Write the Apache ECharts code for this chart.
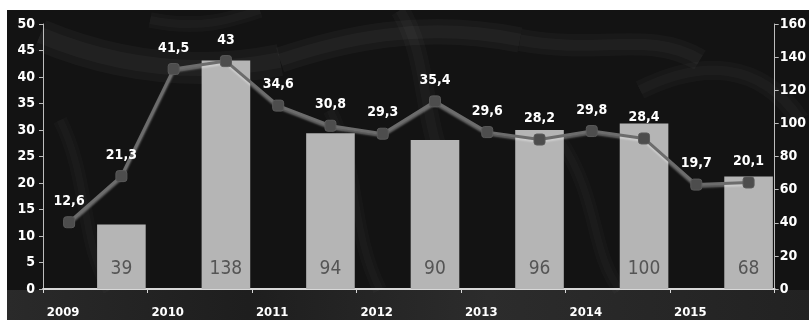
<!DOCTYPE html>
<html>
<head>
<meta charset="utf-8">
<script src="https://cdn.jsdelivr.net/npm/echarts@6/dist/echarts.min.js"></script>
<style>
  html, body { margin: 0; padding: 0; background: #ffffff; }
  #chart { width: 809px; height: 320px; }
</style>
</head>
<body>
<div id="chart"></div>
<script>
// Half-year periods 2009–2015; the year is printed on the first half only
const years = ['2009', '2010', '2011', '2012', '2013', '2014', '2015'];
const periods = years.flatMap(y => [y + ' I', y + ' II']);

// Line series (left axis), one value per half-year
const lineValues = [12.6, 21.3, 41.5, 43, 34.6, 30.8, 29.3, 35.4, 29.6, 28.2, 29.8, 28.4, 19.7, 20.1];

// Bar series (right axis), one value per year, drawn on the second half
const barValues = [39, 138, 94, 90, 96, 100, 68];

// Axis ticks
const leftTicks = { min: 0, max: 50, interval: 5 };
const rightTicks = { min: 0, max: 160, interval: 20 };

const barData = periods.map((p, i) => (i % 2 === 1 ? barValues[(i - 1) / 2] : null));

const narrow = '"Liberation Sans Narrow", "DejaVu Sans Condensed", sans-serif';

const chart = echarts.init(document.getElementById('chart'), null, { renderer: 'canvas' });

// soft branch-like strokes on the dark backdrop (a wide faint pass plus a narrower core)
const branch = (pts, w, a) => {
  const shape = { x1: pts[0], y1: pts[1], cpx1: pts[2], cpy1: pts[3], cpx2: pts[4], cpy2: pts[5], x2: pts[6], y2: pts[7] };
  return [
    { type: 'bezierCurve', silent: true, z: -9, shape,
      style: { stroke: 'rgba(255,255,255,' + a * 0.6 + ')', lineWidth: w * 1.6, fill: null, lineCap: 'butt' } },
    { type: 'bezierCurve', silent: true, z: -9, shape,
      style: { stroke: 'rgba(255,255,255,' + a * 0.6 + ')', lineWidth: w * 0.8, fill: null, lineCap: 'butt' } }
  ];
};

chart.setOption({
  backgroundColor: '#ffffff',
  animation: false,
  graphic: [
    { type: 'rect', silent: true, z: -10, shape: { x: 7, y: 10, width: 802, height: 310 }, style: { fill: '#131313' } },
    { type: 'rect', silent: true, z: -10, shape: { x: 7, y: 290, width: 802, height: 30 },
      style: { fill: new echarts.graphic.LinearGradient(0, 0, 1, 0, [
        { offset: 0, color: '#2a2a2a' }, { offset: 0.3, color: '#1e1e1e' },
        { offset: 0.6, color: '#2c2c2c' }, { offset: 1, color: '#222' }]) } },
    ...branch([40, 35, 100, 60, 180, 80, 280, 60], 20, 0.05),
    ...branch([280, 60, 340, 40, 420, 20, 520, 40], 16, 0.05),
    ...branch([400, 10, 430, 60, 420, 120, 450, 180], 12, 0.04),
    ...branch([520, 40, 600, 55, 650, 30, 700, 60], 14, 0.045),
    ...branch([640, 90, 700, 60, 760, 60, 800, 120], 12, 0.04),
    ...branch([60, 120, 90, 180, 80, 240, 110, 290], 9, 0.035),
    ...branch([330, 110, 360, 170, 350, 230, 380, 290], 9, 0.03),
    ...branch([560, 140, 600, 200, 590, 250, 620, 290], 9, 0.03),
    ...branch([150, 20, 200, 30, 230, 20, 260, 10], 10, 0.04)
  ],
  grid: { left: 43, right: 27, top: 24, bottom: 31, containLabel: false },
  xAxis: {
    type: 'category',
    data: periods,
    boundaryGap: true,
    axisLine: { lineStyle: { color: '#d8d8d8', width: 2 } },
    axisTick: { show: true, length: 4, lineStyle: { color: '#d8d8d8', width: 1 } },
    axisLabel: {
      interval: 1,
      margin: 17,
      padding: [0, 12, 0, 0],
      color: '#ffffff',
      fontFamily: narrow,
      fontWeight: 'bold',
      fontSize: 13,
      formatter: v => v.split(' ')[0]
    },
    splitLine: { show: false }
  },
  yAxis: [
    {
      type: 'value',
      position: 'left',
      min: leftTicks.min, max: leftTicks.max, interval: leftTicks.interval,
      axisLine: { show: true, lineStyle: { color: '#bdbdbd', width: 1 } },
      axisTick: { show: true, length: 4, lineStyle: { color: '#bdbdbd' } },
      axisLabel: { color: '#ffffff', fontFamily: narrow, fontWeight: 'bold', fontSize: 14, margin: 8 },
      splitLine: { show: false }
    },
    {
      type: 'value',
      position: 'right',
      min: rightTicks.min, max: rightTicks.max, interval: rightTicks.interval,
      axisLine: { show: true, lineStyle: { color: '#bdbdbd', width: 1 } },
      axisTick: { show: true, length: 4, lineStyle: { color: '#bdbdbd' } },
      axisLabel: { color: '#ffffff', fontFamily: narrow, fontWeight: 'bold', fontSize: 14, margin: 5 },
      splitLine: { show: false }
    }
  ],
  series: [
    {
      type: 'bar',
      yAxisIndex: 1,
      data: barData,
      barWidth: '93%',
      itemStyle: { color: '#b5b5b5' },
      label: {
        show: true,
        position: 'insideBottom',
        distance: 10,
        color: '#555555',
        fontFamily: narrow,
        fontSize: 19,
        formatter: p => (p.value == null ? '' : String(p.value))
      },
      z: 2
    },
    {
      type: 'line',
      yAxisIndex: 0,
      data: lineValues,
      symbol: 'roundRect',
      symbolSize: 11,
      showAllSymbol: true,
      lineStyle: { color: '#6c6c6c', width: 3, shadowColor: 'rgba(255,255,255,0.35)', shadowBlur: 2, shadowOffsetY: 2 },
      itemStyle: { color: '#4d4d4d', borderColor: '#5a5a5a', borderWidth: 1 },
      label: {
        show: true,
        position: 'top',
        distance: 8,
        color: '#ffffff',
        fontFamily: narrow,
        fontWeight: 'bold',
        fontSize: 14,
        formatter: p => String(p.value).replace('.', ',')
      },
      z: 3
    }
  ]
});
</script>
</body>
</html>
